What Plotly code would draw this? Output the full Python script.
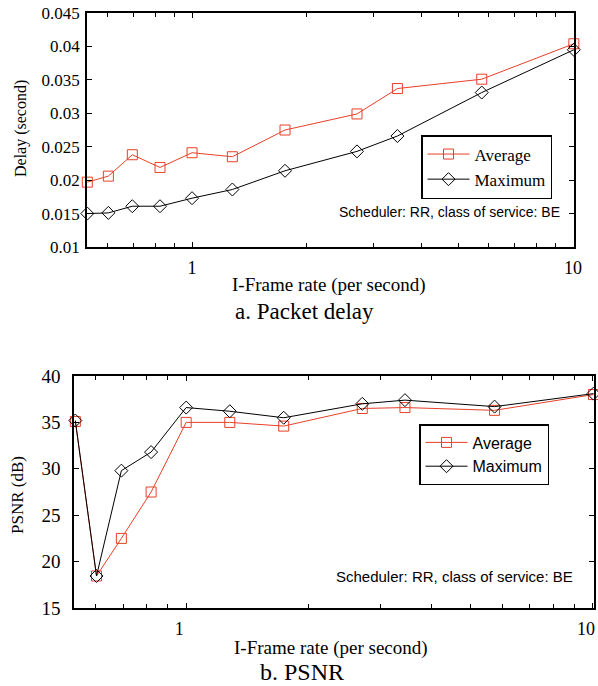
import math
import plotly.graph_objects as go

# I-frame rate (per second)
rate_delay = [0.531, 0.603, 0.697, 0.824, 1.0, 1.276, 1.754, 2.71, 3.46, 5.76, 10.05]
delay_avg = [0.0197, 0.0206, 0.0238, 0.0219, 0.0241, 0.0235, 0.0275, 0.0299, 0.0337, 0.0351, 0.0404]
delay_max = [0.0150, 0.0151, 0.0161, 0.0161, 0.0173, 0.0186, 0.0214, 0.0243, 0.0266, 0.0331, 0.0395]

rate_psnr = [0.534, 0.602, 0.693, 0.82, 1.0, 1.28, 1.737, 2.71, 3.45, 5.73, 10.03]
psnr_avg = [35.1, 18.45, 22.5, 27.5, 35.0, 35.0, 34.6, 36.5, 36.6, 36.3, 38.0]
psnr_max = [35.2, 18.45, 29.8, 31.8, 36.6, 36.2, 35.5, 37.0, 37.4, 36.7, 38.1]

delay_ticks = [0.01, 0.015, 0.02, 0.025, 0.03, 0.035, 0.04, 0.045]
delay_ticklabels = ["0.01", "0.015", "0.02", "0.025", "0.03", "0.035", "0.04", "0.045"]
psnr_ticks = [15, 20, 25, 30, 35, 40]
x_ticks = [1, 10]
x_ticklabels = ["1", "10"]
x_minor = [0.6, 0.7, 0.8, 0.9, 2, 3, 4, 5, 6, 7, 8, 9]

RED = "rgb(232,64,40)"
BLACK = "black"
W, H = 598, 686
SERIF = "Liberation Serif"
SANS = "Liberation Sans"


def px_x(p):
    return p / W


def px_y(p):
    return 1 - p / H


fig = go.Figure()


def add_series(x, y, name, color, symbol, xa, ya, legend):
    fig.add_trace(go.Scatter(
        x=x, y=y, name=name, mode="lines+markers",
        line=dict(color=color, width=1),
        marker=dict(symbol=symbol, size=10, color=color, line=dict(color=color, width=1)),
        xaxis=xa, yaxis=ya, legend=legend, cliponaxis=False,
    ))


add_series(rate_delay, delay_avg, "Average", RED, "square-open", "x", "y", "legend")
add_series(rate_delay, delay_max, "Maximum", BLACK, "diamond-open", "x", "y", "legend")
add_series(rate_psnr, psnr_avg, "Average", RED, "square-open", "x2", "y2", "legend2")
add_series(rate_psnr, psnr_max, "Maximum", BLACK, "diamond-open", "x2", "y2", "legend2")

xr = [math.log10(0.53), math.log10(10.06)]

common_x = dict(
    type="log", range=xr, tickvals=x_ticks, ticktext=x_ticklabels,
    ticks="inside", ticklen=5, tickcolor="black", mirror="ticks",
    showline=True, linecolor="black", linewidth=1.5, showgrid=False,
    zeroline=False, tickfont=dict(family=SERIF, size=18, color="black"),
    ticklabelstandoff=4, automargin=False, ticklabeloverflow="allow",
    minor=dict(tickvals=x_minor, ticks="inside", ticklen=4, tickcolor="black", showgrid=False),
)
common_y = dict(
    ticks="inside", ticklen=5, tickcolor="black", mirror="ticks",
    showline=True, linecolor="black", linewidth=1.5, showgrid=False,
    zeroline=False, automargin=False, ticklabeloverflow="allow",
)

fig.update_layout(
    width=W, height=H, margin=dict(l=0, r=0, t=0, b=0, pad=0, autoexpand=False),
    paper_bgcolor="white", plot_bgcolor="white",
    xaxis=dict(common_x, domain=[px_x(87), px_x(574)], anchor="y"),
    yaxis=dict(common_y, domain=[px_y(247), px_y(13)], anchor="x",
               range=[0.01, 0.045], tickvals=delay_ticks, ticktext=delay_ticklabels,
               tickfont=dict(family=SERIF, size=17, color="black"), ticklabelstandoff=2),
    xaxis2=dict(common_x, domain=[px_x(74), px_x(594)], anchor="y2", ticklabelshift=-7),
    yaxis2=dict(common_y, domain=[px_y(608), px_y(376)], anchor="x2",
                range=[15, 40], tickvals=psnr_ticks,
                tickfont=dict(family=SERIF, size=19, color="black"), ticklabelstandoff=8),
    legend=dict(x=px_x(421), y=px_y(135), xanchor="left", yanchor="top",
                bordercolor="black", borderwidth=1.5, bgcolor="white",
                font=dict(family=SERIF, size=17, color="black"),
                tracegroupgap=0, itemwidth=42),
    legend2=dict(x=px_x(419), y=px_y(424), xanchor="left", yanchor="top",
                 bordercolor="black", borderwidth=1.5, bgcolor="white",
                 font=dict(family=SANS, size=16, color="black"),
                 tracegroupgap=0, itemwidth=42),
    showlegend=True,
)


def ann(text, x, y, size, family, xanchor="center", angle=0):
    fig.add_annotation(text=text, x=px_x(x), y=px_y(y), xref="paper", yref="paper",
                       xanchor=xanchor, yanchor="middle", showarrow=False, textangle=angle,
                       font=dict(family=family, size=size, color="black"))


ann("Scheduler: RR, class of service: BE", 562, 212, 14, SANS, xanchor="right")
ann("Scheduler: RR, class of service: BE", 575, 576, 15, SANS, xanchor="right")
ann("Delay (second)", 21, 129, 16, SERIF, angle=-90)
ann("PSNR (dB)", 17, 495, 17, SERIF, angle=-90)
ann("I-Frame rate (per second)", 329, 285, 19, SERIF)
ann("a. Packet delay", 304, 311, 23, SERIF)
ann("I-Frame rate (per second)", 331, 648, 19, SERIF)
ann("b. PSNR", 302, 672, 24, SERIF)

# remove the browser's default 8px page margin so the figure fills the window
fig.write_html(
    "out.html",
    config={"displayModeBar": False},
    post_script="document.body.style.margin='0';document.body.style.overflow='hidden';",
)
